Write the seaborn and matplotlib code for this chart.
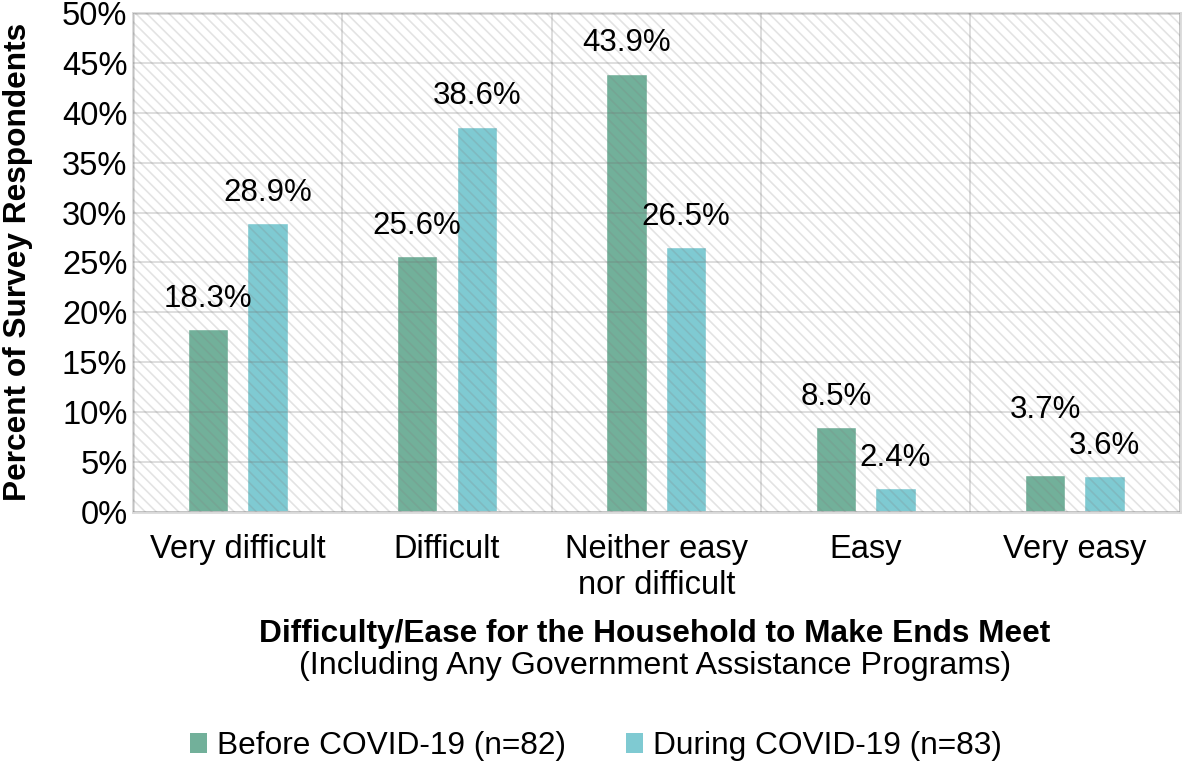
import numpy as np
import pandas as pd
import matplotlib
matplotlib.use('Agg')
import matplotlib.pyplot as plt
from matplotlib.patches import Rectangle, Patch
import seaborn as sns

# data
categories = ["Very difficult", "Difficult", "Neither easy\nnor difficult", "Easy", "Very easy"]
before_covid = [18.3, 25.6, 43.9, 8.5, 3.7]
during_covid = [28.9, 38.6, 26.5, 2.4, 3.6]
series_names = ["Before COVID-19 (n=82)", "During COVID-19 (n=83)"]
y_ticks = [0, 5, 10, 15, 20, 25, 30, 35, 40, 45, 50]

colors = ["#72B09A", "#7FCAD2"]

sns.set_theme(style="white")
plt.rcParams['font.family'] = ['Liberation Sans', 'DejaVu Sans']
plt.rcParams['text.color'] = 'black'
plt.rcParams['xtick.color'] = 'black'
plt.rcParams['ytick.color'] = 'black'
plt.rcParams['hatch.linewidth'] = 1.2

df = pd.DataFrame({
    "category": categories * 2,
    "value": before_covid + during_covid,
    "period": [series_names[0]] * 5 + [series_names[1]] * 5,
})

fig = plt.figure(figsize=(11.84, 7.64), dpi=100)
ax = fig.add_axes([0.1123, 0.3298, 0.884, 0.6534])

sns.barplot(data=df, x="category", y="value", hue="period", palette=colors,
            width=0.57, gap=0.32, ax=ax, saturation=1, legend=False, zorder=1)

ax.set_xlim(-0.5, 4.5)
ax.set_ylim(0, 50)
ax.set_yticks(y_ticks)
ax.set_yticklabels([f"{t}%" for t in y_ticks])
ax.set_xticks(range(5))
ax.set_xticklabels(categories)
ax.set_xticks(np.arange(-0.5, 5, 1), minor=True)
ax.tick_params(axis='both', which='both', length=0, labelsize=23.5, labelcolor='black')
ax.tick_params(axis='y', pad=4)
ax.tick_params(axis='x', pad=16)
ax.set_xlabel("")
ax.set_ylabel("")

# faint grid drawn over the bars
ax.set_axisbelow(False)
ax.grid(axis='y', which='major', color='#707070', alpha=0.25, linewidth=1.3)
ax.grid(axis='x', which='minor', color='#707070', alpha=0.25, linewidth=1.3)
ax.grid(axis='x', which='major', visible=False)
for s in ax.spines.values():
    s.set_color("#d9d9d9")
    s.set_linewidth(2)

# diagonal hatch over the whole plot area
ax.add_patch(Rectangle((0, 0), 1, 1, transform=ax.transAxes, fill=False,
                       hatch='\\\\\\', edgecolor=(0.5, 0.5, 0.5, 0.22),
                       linewidth=0, zorder=3))

# value labels
offsets = [[22, 22, 22, 22, 47], [22, 22, 22, 22, 22]]
for j, vals in enumerate([before_covid, during_covid]):
    for i, v in enumerate(vals):
        x = i + (-0.1425 if j == 0 else 0.1425)
        ax.annotate(f"{v}%", (x, v), xytext=(0, offsets[j][i]), textcoords='offset points',
                    ha='center', va='center', fontsize=22.5, color='black', zorder=5)

fig.text(0.015, 0.657, "Percent of Survey Respondents", rotation=90, ha='center', va='center',
         fontsize=22.8, fontweight='bold')
fig.text(0.553, 1 - 634 / 764, "Difficulty/Ease for the Household to Make Ends Meet",
         ha='center', va='center', fontsize=22.8, fontweight='bold')
fig.text(0.553, 1 - 666 / 764, "(Including Any Government Assistance Programs)",
         ha='center', va='center', fontsize=23.2)

handles = [Patch(facecolor=c, edgecolor='none') for c in colors]
fig.legend(handles, series_names, loc='center', bbox_to_anchor=(0.503, 1 - 746 / 764),
           ncol=2, frameon=False, fontsize=22.8, handlelength=0.55, handleheight=0.6,
           handletextpad=0.3, columnspacing=1.9)

fig.savefig("out.png", dpi=100)
